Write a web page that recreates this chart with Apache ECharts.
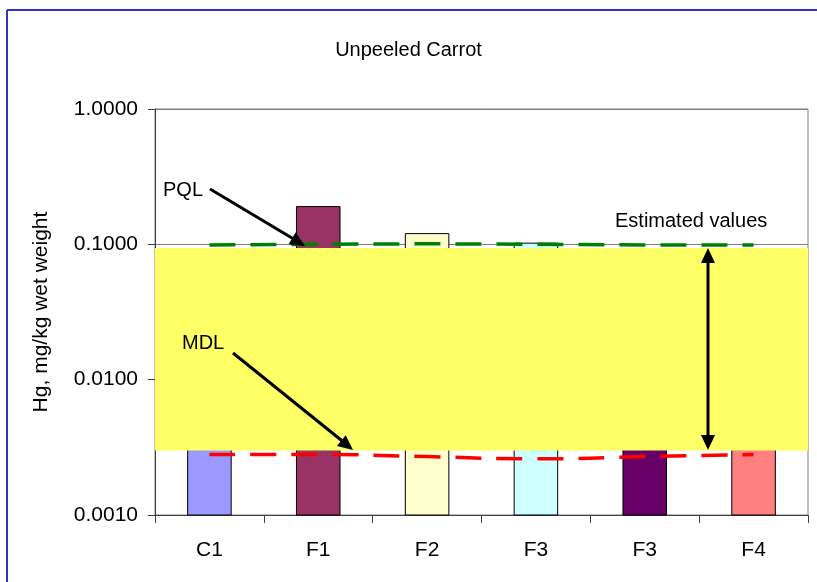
<!DOCTYPE html>
<html>
<head>
<meta charset="utf-8">
<script src="https://cdn.jsdelivr.net/npm/echarts@6/dist/echarts.min.js"></script>
<style>
  html, body { margin: 0; padding: 0; background: #fff; }
  #chart { width: 817px; height: 582px; }
</style>
</head>
<body>
<div id="chart"></div>
<script>
// data
var categories = ['C1', 'F1', 'F2', 'F3', 'F3', 'F4'];
var hgValues = [0.04, 0.19, 0.12, 0.102, 0.06, 0.05];
var barColors = ['#9999ff', '#993366', '#ffffcc', '#ccffff', '#660066', '#ff8080'];
var pqlValues = [0.099, 0.1, 0.101, 0.1, 0.099, 0.099];
var mdlValues = [0.0028, 0.0028, 0.0027, 0.0026, 0.0027, 0.0028];
var estimatedBand = [0.0030, 0.094];
var yTicks = [0.001, 0.01, 0.1, 1];

var font = 'Liberation Sans, Arial, sans-serif';

// arrow: line with a filled head at (x2, y2)
function arrowHead(x1, y1, x2, y2) {
  var len = 15, half = 7;
  var dx = x2 - x1, dy = y2 - y1;
  var d = Math.sqrt(dx * dx + dy * dy);
  var ux = dx / d, uy = dy / d;
  var bx = x2 - ux * len, by = y2 - uy * len;
  return {
    type: 'polygon',
    shape: { points: [[x2, y2], [bx - uy * half, by + ux * half], [bx + uy * half, by - ux * half]] },
    style: { fill: '#000' },
    z: 100
  };
}
function arrowLine(x1, y1, x2, y2) {
  return {
    type: 'line',
    shape: { x1: x1, y1: y1, x2: x2, y2: y2 },
    style: { stroke: '#000', lineWidth: 3 },
    z: 100
  };
}

// bars on a log axis, drawn from the axis floor up to the value
function renderBar(params, api) {
  var i = api.value(0);
  var v = api.value(1);
  var top = api.coord([i, v]);
  var bottom = api.coord([i, yTicks[0]]);
  var band = api.size([1, 1])[0];
  var w = band * 0.4;
  return {
    type: 'rect',
    shape: { x: top[0] - w / 2, y: top[1], width: w, height: bottom[1] - top[1] },
    style: { fill: barColors[i], stroke: '#000', lineWidth: 1 }
  };
}

var chart = echarts.init(document.getElementById('chart'));

var option = {
  animation: false,
  backgroundColor: '#fff',
  title: {
    text: 'Unpeeled Carrot',
    left: 'center',
    top: 35,
    textStyle: { fontFamily: font, fontSize: 20, fontWeight: 'normal', color: '#000' }
  },
  grid: {
    left: 155, right: 9, top: 109, bottom: 67,
    show: true, borderColor: '#808080', borderWidth: 1
  },
  xAxis: {
    type: 'category',
    data: categories,
    axisLine: { lineStyle: { color: '#404040', width: 1 } },
    axisTick: { show: true, length: 8, lineStyle: { color: '#404040' } },
    axisLabel: { fontFamily: font, fontSize: 21, color: '#000', margin: 25 }
  },
  yAxis: {
    type: 'log',
    logBase: 10,
    min: yTicks[0],
    max: yTicks[yTicks.length - 1],
    name: 'Hg, mg/kg wet weight',
    nameLocation: 'middle',
    nameGap: 103,
    nameTextStyle: { fontFamily: font, fontSize: 21, color: '#000' },
    axisLine: { show: true, lineStyle: { color: '#404040', width: 1 } },
    axisTick: { show: true, length: 7, lineStyle: { color: '#404040' } },
    axisLabel: {
      fontFamily: font, fontSize: 21, color: '#000', margin: 17,
      formatter: function (v) { return Number(v).toFixed(4); }
    },
    splitLine: { show: true, lineStyle: { color: '#808080', width: 1 } }
  },
  series: [
    {
      type: 'custom',
      z: 2,
      renderItem: renderBar,
      data: hgValues.map(function (v, i) { return [i, v]; })
    },
    {
      type: 'line',
      z: 3,
      data: [],
      silent: true,
      markArea: {
        silent: true,
        z: 3,
        itemStyle: { color: '#ffff66', opacity: 1 },
        data: [[{ yAxis: estimatedBand[1] }, { yAxis: estimatedBand[0] }]]
      }
    },
    {
      name: 'PQL',
      type: 'line',
      z: 4,
      symbol: 'none',
      data: pqlValues,
      lineStyle: { color: '#008000', width: 3.5, type: [26, 15] }
    },
    {
      name: 'MDL',
      type: 'line',
      z: 4,
      symbol: 'none',
      smooth: true,
      data: mdlValues,
      lineStyle: { color: '#ff0000', width: 3.5, type: [26, 15] }
    }
  ],
  graphic: [
    // outer frame (left and top edges)
    { type: 'line', shape: { x1: 7, y1: 10, x2: 817, y2: 10 }, style: { stroke: '#3333cc', lineWidth: 2 } },
    { type: 'line', shape: { x1: 7, y1: 10, x2: 7, y2: 582 }, style: { stroke: '#3333cc', lineWidth: 2 } },
    // annotations
    { type: 'text', style: { text: 'PQL', x: 163, y: 190, font: '20px ' + font, fill: '#000', verticalAlign: 'middle' }, z: 100 },
    arrowLine(210, 189, 297, 241),
    arrowHead(210, 189, 305, 246),
    { type: 'text', style: { text: 'MDL', x: 182, y: 343, font: '20px ' + font, fill: '#000', verticalAlign: 'middle' }, z: 100 },
    arrowLine(233, 353, 346, 444),
    arrowHead(233, 353, 353, 450),
    { type: 'text', style: { text: 'Estimated values', x: 615, y: 221, font: '20px ' + font, fill: '#000', verticalAlign: 'middle' }, z: 100 },
    arrowLine(708, 258, 708, 440),
    arrowHead(708, 350, 708, 248),
    arrowHead(708, 350, 708, 450)
  ]
};

chart.setOption(option);
</script>
</body>
</html>
